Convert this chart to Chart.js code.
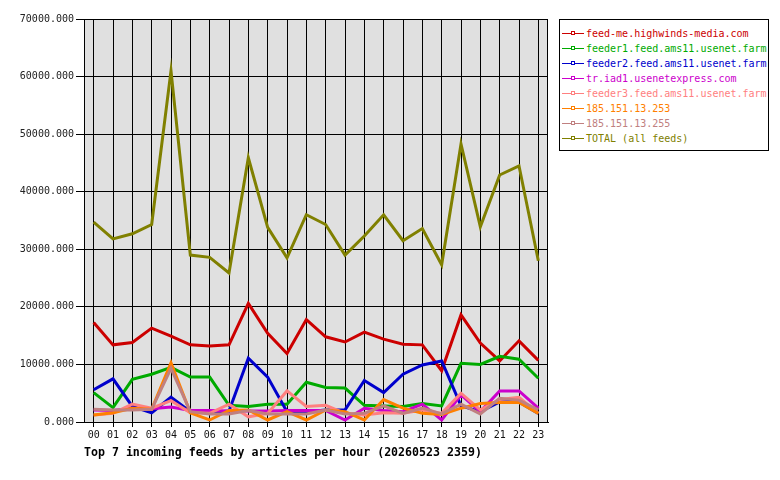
<!DOCTYPE html>
<html>
<head>
<meta charset="utf-8">
<script src="https://cdn.jsdelivr.net/npm/chart.js@4"></script>
<style>
  body { margin: 0; background: #fff; }
  #wrap { position: relative; width: 780px; height: 480px; }
  #legend {
    position: absolute; left: 559px; top: 19px; width: 208px; height: 130px;
    border: 1px solid #000; background: #fff;
    font: 10px "DejaVu Sans Mono", monospace;
  }
  .item { position: absolute; left: 2px; height: 15px; line-height: 15px; white-space: nowrap; }
  .item .mark { position: absolute; left: 0; top: 7px; width: 22px; height: 1px; }
  .item .box { position: absolute; left: 9px; top: 5px; width: 2px; height: 2px; border: 1px solid; background: #fff; }
  .item span { position: absolute; left: 24px; top: 0; }
  #title {
    position: absolute; left: 84px; top: 445px;
    font: bold 11.6px "DejaVu Sans Mono", monospace; color: #000; white-space: nowrap;
  }
</style>
</head>
<body>
<div id="wrap">
  <canvas id="chart" width="780" height="480"></canvas>
  <div id="legend"></div>
  <div id="title">Top 7 incoming feeds by articles per hour (20260523 2359)</div>
</div>
<script>
const hours = ['00','01','02','03','04','05','06','07','08','09','10','11',
               '12','13','14','15','16','17','18','19','20','21','22','23'];

const feedNames = [
    'feed-me.highwinds-media.com',
    'feeder1.feed.ams11.usenet.farm',
    'feeder2.feed.ams11.usenet.farm',
    'tr.iad1.usenetexpress.com',
    'feeder3.feed.ams11.usenet.farm',
    '185.151.13.253',
    '185.151.13.255',
    'TOTAL (all feeds)'
];

const feedColors = ['#cc0000', '#00aa00', '#0000cc', '#cc00cc', '#ff8080', '#ff8000', '#c08080', '#808000'];

const highwinds = [17300, 13400, 13800, 16300, 14900, 13400, 13200, 13400, 20600, 15400, 11900, 17800,
                   14800, 13900, 15600, 14400, 13500, 13400, 8900, 18600, 13700, 10600, 14100, 10700];
const feeder1   = [5100, 2500, 7400, 8300, 9500, 7800, 7800, 2900, 2700, 3100, 3100, 6900,
                   6000, 5900, 2900, 2800, 2700, 3200, 2800, 10200, 10000, 11400, 10900, 7600];
const feeder2   = [5600, 7500, 2700, 1600, 4300, 1800, 1600, 1900, 11100, 7800, 1800, 1800,
                   2100, 2100, 7200, 5100, 8300, 9900, 10600, 2800, 1800, 3500, 3500, 1500];
const usenetexpress = [2100, 2000, 2400, 2300, 2600, 2000, 2000, 1900, 1900, 1900, 2000, 2000,
                   2000, 350, 2400, 2000, 1800, 3100, 350, 4700, 1800, 5400, 5400, 2400];
const feeder3   = [1200, 1500, 3100, 2400, 3700, 1600, 1500, 3100, 900, 1500, 5400, 2700,
                   2900, 1500, 1200, 1600, 1500, 2100, 1500, 5000, 2100, 3900, 4300, 1500];
const ip253     = [1200, 1600, 2400, 2200, 10300, 1600, 350, 2000, 2100, 350, 1800, 350,
                   2100, 1800, 350, 3900, 2400, 1500, 1300, 2400, 3200, 3400, 3400, 1500];
const ip255     = [2200, 2100, 2100, 2200, 9300, 1800, 1400, 1400, 2000, 1400, 1400, 1400,
                   2100, 1400, 1500, 2800, 1500, 2400, 1400, 3100, 1400, 4100, 3800, 2100];
const total     = [34700, 31800, 32700, 34300, 61000, 29000, 28600, 25900, 45900, 33800, 28500, 36000,
                   34300, 29000, 32300, 36000, 31500, 33600, 27300, 48300, 33900, 42900, 44500, 28000];

const yTicks = [0, 10000, 20000, 30000, 40000, 50000, 60000, 70000];

const seriesValues = [highwinds, feeder1, feeder2, usenetexpress, feeder3, ip253, ip255, total];

const FONT = { family: '"DejaVu Sans Mono", monospace', size: 10 };

const plotBackground = {
    id: 'plotBackground',
    beforeDraw(chart) {
        const { ctx, chartArea: a } = chart;
        ctx.save();
        ctx.fillStyle = '#e0e0e0';
        ctx.fillRect(a.left, a.top, a.right - a.left, a.bottom - a.top);
        ctx.restore();
    },
    afterDatasetsDraw(chart) {
        const { ctx, chartArea: a } = chart;
        ctx.save();
        ctx.strokeStyle = '#000';
        ctx.lineWidth = 1;
        ctx.strokeRect(a.left + 0.5, a.top + 0.5, a.right - a.left - 1, a.bottom - a.top);
        ctx.restore();
    }
};

const datasets = seriesValues.map((vals, i) => ({
    label: feedNames[i],
    data: vals,
    borderColor: feedColors[i],
    backgroundColor: feedColors[i],
    borderWidth: 3,
    pointRadius: 0,
    tension: 0,
    fill: false,
    order: seriesValues.length - i
}));

new Chart(document.getElementById('chart'), {
    type: 'line',
    data: { labels: hours, datasets: datasets },
    options: {
        responsive: false,
        animation: false,
        layout: { padding: { top: 19, right: 232, left: 0, bottom: 0 } },
        plugins: {
            legend: { display: false },
            title: { display: false },
            tooltip: { enabled: false }
        },
        scales: {
            x: {
                offset: true,
                grid: { color: '#000', lineWidth: 1, tickLength: 5, offset: false, drawOnChartArea: true },
                border: { color: '#000' },
                ticks: { color: '#111', font: FONT, padding: 2, maxRotation: 0, autoSkip: false },
                afterFit(scale) { scale.height = 58; }
            },
            y: {
                min: 0,
                max: 70000,
                afterBuildTicks(scale) { scale.ticks = yTicks.map(v => ({ value: v })); },
                grid: { color: '#000', lineWidth: 1, tickLength: 8 },
                border: { color: '#000' },
                ticks: {
                    color: '#222',
                    font: FONT,
                    padding: 2,
                    callback: v => v.toFixed(3)
                },
                afterFit(scale) { scale.width = 84; }
            }
        }
    },
    plugins: [plotBackground]
});

// legend box
const legend = document.getElementById('legend');
feedNames.forEach((name, i) => {
    const row = document.createElement('div');
    row.className = 'item';
    row.style.top = (6 + i * 15) + 'px';
    row.style.color = feedColors[i];
    row.innerHTML = '<div class="mark" style="background:' + feedColors[i] + '"></div>' +
        '<div class="box" style="border-color:' + feedColors[i] + '"></div>' +
        '<span></span>';
    row.querySelector('span').textContent = name;
    legend.appendChild(row);
});
</script>
</body>
</html>
